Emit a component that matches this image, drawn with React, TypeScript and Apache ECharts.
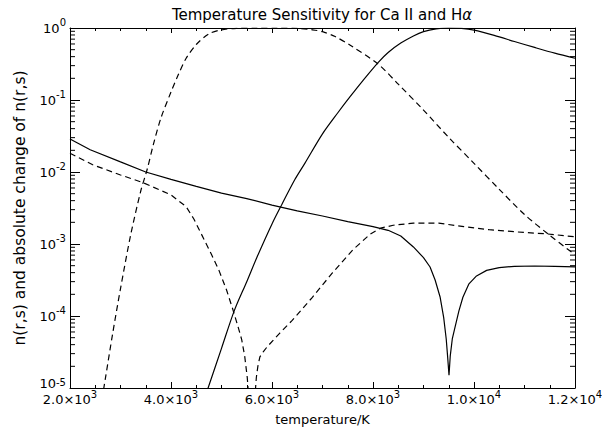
import React, { useEffect, useRef } from "react";
import * as echarts from "echarts";

// ---- axis settings ----
const xMin = 2000;
const xMax = 12000;
const xStep = 2000;
const yMin = 1e-5;
const yMax = 1;
const minorMultipliers = [2, 3, 4, 5, 6, 7, 8, 9];
const decades = [1e-5, 1e-4, 1e-3, 1e-2, 1e-1];

const titleMain = "Temperature Sensitivity for Ca II and H";
const titleGreek = "α";
const xName = "temperature/K";
const yName = "n(r,s) and absolute change of n(r,s)";

// ---- series: solid, population peaking near 9500 K ----
const popSolidT = [4700, 5000, 5250, 5500, 5700, 6000, 6200, 6450, 6650, 7000, 7300, 7550, 7800, 8100, 8300, 8550, 8800, 9000, 9250, 9500, 9750, 10000, 10400, 10800, 11200, 11600, 12000];
const popSolidV = [8.5e-6, 3.55e-5, 1.17e-4, 3.0e-4, 6.5e-4, 1.9e-3, 3.6e-3, 7.8e-3, 0.0132, 0.0339, 0.066, 0.112, 0.186, 0.331, 0.457, 0.617, 0.776, 0.891, 0.973, 1.0, 0.986, 0.933, 0.79, 0.65, 0.537, 0.447, 0.38];

// ---- series: solid, absolute change ----
const chgSolidT = [2000, 2400, 3000, 3500, 4000, 4500, 5000, 5500, 6000, 6500, 7000, 7500, 8000, 8300, 8550, 8800, 9000, 9130, 9230, 9330, 9400, 9450, 9480, 9505, 9530, 9570, 9620, 9700, 9780, 9900, 10050, 10250, 10500, 10800, 11200, 11600, 12000];
const chgSolidV = [0.0288, 0.0204, 0.0138, 0.0100, 0.0079, 0.0063, 0.0051, 0.00427, 0.00347, 0.00288, 0.00245, 0.00204, 0.00174, 0.00155, 0.00129, 0.00091, 0.000646, 0.000479, 0.000316, 0.000182, 9.5e-5, 4.8e-5, 2.6e-5, 1.5e-5, 2.8e-5, 4.8e-5, 6.8e-5, 1.17e-4, 1.82e-4, 2.8e-4, 3.6e-4, 4.3e-4, 4.7e-4, 4.9e-4, 4.95e-4, 4.9e-4, 4.8e-4];

// ---- series: dashed, population peaking near 6000 K ----
const popDashT = [2600, 2700, 2850, 3000, 3200, 3400, 3530, 3650, 3800, 4000, 4150, 4300, 4500, 4750, 5000, 5300, 5700, 6100, 6500, 6800, 7000, 7250, 7550, 8100, 8500, 9000, 9500, 10000, 10500, 11000, 11500, 12000];
const popDashV = [5.0e-6, 1.35e-5, 6.0e-5, 2.4e-4, 1.32e-3, 5.4e-3, 0.011, 0.024, 0.056, 0.129, 0.229, 0.38, 0.59, 0.83, 0.944, 0.99, 1.0, 1.0, 0.99, 0.944, 0.89, 0.76, 0.575, 0.316, 0.166, 0.0724, 0.0302, 0.0132, 0.00575, 0.00257, 0.00132, 7.1e-4];

// ---- series: dashed, absolute change ----
const chgDashT = [2000, 2450, 3000, 3450, 4000, 4300, 4450, 4600, 4800, 4950, 5100, 5230, 5320, 5400, 5460, 5510, 5600, 5690, 5720, 5760, 5830, 5900, 6150, 6400, 6800, 7200, 7600, 7950, 8150, 8400, 8800, 9300, 9800, 10300, 10800, 11450, 12000];
const chgDashV = [0.0182, 0.0126, 0.0091, 0.0071, 0.0048, 0.0033, 0.00224, 0.00138, 0.00072, 4.3e-4, 2.3e-4, 1.2e-4, 7.4e-5, 4.7e-5, 2.75e-5, 1.4e-5, 2.0e-6, 1.4e-5, 2.0e-5, 2.7e-5, 3.2e-5, 3.7e-5, 5.75e-5, 8.7e-5, 1.82e-4, 4.0e-4, 8.3e-4, 1.38e-3, 1.66e-3, 1.82e-3, 1.95e-3, 1.95e-3, 1.74e-3, 1.58e-3, 1.48e-3, 1.38e-3, 1.26e-3];

const FONT = "DejaVu Sans";

function pairs(t: number[], v: number[]) {
  return t.map((x, i) => [x, v[i]]);
}

const minorTickValues: number[][] = [];
decades.forEach((d) => minorMultipliers.forEach((m) => minorTickValues.push([xMin, d * m])));

const supRich = {
  b: { fontSize: 13, fontFamily: FONT, color: "#000", lineHeight: 21 },
  s: { fontSize: 10, fontFamily: FONT, color: "#000", lineHeight: 10, verticalAlign: "top" as const },
  bm: { fontSize: 13, fontFamily: FONT, color: "#000", lineHeight: 21, padding: [0, 0, 10, 0] },
};

function xLabel(v: number) {
  const e = Math.floor(Math.log10(v) + 1e-9);
  const m = (v / Math.pow(10, e)).toFixed(1);
  return `{b|${m}×10}{s|${e}}`;
}
function yLabel(v: number) {
  const e = Math.round(Math.log10(v));
  // the lowest label sits a little above its tick, clear of the x labels
  if (v <= yMin * 1.0001) return `{bm|10}{s|${e}}`;
  return `{b|10}{s|${e}}`;
}

export default function App() {
  const ref = useRef<HTMLDivElement>(null);
  useEffect(() => {
    if (!ref.current) return;
    const chart = echarts.init(ref.current, undefined, { renderer: "svg" });
    const lineStyleSolid = { color: "#000", width: 1.2, type: "solid" as const };
    const lineStyleDash = { color: "#000", width: 1.2, type: [6, 4] as any };
    chart.setOption({
      animation: false,
      backgroundColor: "#fff",
      textStyle: { fontFamily: FONT },
      grid: { left: 70, right: 27, top: 28, bottom: 40, containLabel: false, outerBoundsMode: "none" },
      graphic: [
        {
          type: "text",
          x: 322,
          y: 15,
          style: {
            text: `{a|${titleMain}}{i|${titleGreek}}`,
            align: "center",
            verticalAlign: "middle",
            fill: "#000",
            rich: {
              a: { fontSize: 15, fontFamily: FONT, color: "#000" },
              i: { fontSize: 15, fontFamily: FONT, fontStyle: "italic", color: "#000" },
            },
          },
        },
      ],
      xAxis: [
        {
          type: "value",
          min: xMin,
          max: xMax,
          interval: xStep,
          position: "bottom",
          name: xName,
          nameLocation: "middle",
          nameGap: 25,
          nameTextStyle: { fontSize: 13, fontFamily: FONT, color: "#000" },
          axisLine: { show: true, onZero: false, lineStyle: { color: "#000", width: 1 } },
          axisTick: { show: true, inside: true, length: 6, lineStyle: { color: "#000" } },
          minorTick: { show: true, splitNumber: 4, length: 3, lineStyle: { color: "#000" } },
          splitLine: { show: false },
          axisLabel: { margin: 1, formatter: xLabel, rich: supRich, color: "#000" },
        },
        {
          type: "value",
          min: xMin,
          max: xMax,
          interval: xStep,
          position: "top",
          axisLine: { show: true, onZero: false, lineStyle: { color: "#000", width: 1 } },
          axisTick: { show: true, inside: true, length: 5, lineStyle: { color: "#000" } },
          minorTick: { show: true, splitNumber: 4, length: 3, lineStyle: { color: "#000" } },
          splitLine: { show: false },
          axisLabel: { show: false },
        },
      ],
      yAxis: [
        {
          type: "log",
          logBase: 10,
          min: yMin,
          max: yMax,
          position: "left",
          name: yName,
          nameLocation: "middle",
          nameGap: 42,
          nameRotate: 90,
          nameTextStyle: { fontSize: 15.5, fontFamily: FONT, color: "#000" },
          axisLine: { show: true, onZero: false, lineStyle: { color: "#000", width: 1 } },
          axisTick: { show: true, inside: true, length: 10, lineStyle: { color: "#000" } },
          splitLine: { show: false },
          axisLabel: { margin: 4, formatter: yLabel, rich: supRich, color: "#000" },
        },
        {
          type: "log",
          logBase: 10,
          min: yMin,
          max: yMax,
          position: "right",
          axisLine: { show: true, onZero: false, lineStyle: { color: "#000", width: 1 } },
          axisTick: { show: true, inside: true, length: 10, lineStyle: { color: "#000" } },
          splitLine: { show: false },
          axisLabel: { show: false },
        },
      ],
      series: [
        {
          type: "custom",
          xAxisIndex: 0,
          yAxisIndex: 0,
          silent: true,
          clip: false,
          encode: { x: 0, y: 1 },
          data: minorTickValues,
          renderItem: (params: any, api: any) => {
            const v = api.value(1);
            const pl = api.coord([xMin, v]);
            const pr = api.coord([xMax, v]);
            return {
              type: "group",
              children: [
                { type: "line", shape: { x1: pl[0], y1: pl[1], x2: pl[0] + 5, y2: pl[1] }, style: { stroke: "#000", lineWidth: 1 } },
                { type: "line", shape: { x1: pr[0], y1: pr[1], x2: pr[0] - 5, y2: pr[1] }, style: { stroke: "#000", lineWidth: 1 } },
              ],
            };
          },
        },
        { type: "line", name: "pop solid", data: pairs(popSolidT, popSolidV), showSymbol: false, smooth: 0.3, lineStyle: lineStyleSolid, clip: true },
        { type: "line", name: "change solid", data: pairs(chgSolidT, chgSolidV), showSymbol: false, lineStyle: lineStyleSolid, clip: true },
        { type: "line", name: "pop dashed", data: pairs(popDashT, popDashV), showSymbol: false, smooth: 0.3, lineStyle: lineStyleDash, clip: true },
        { type: "line", name: "change dashed", data: pairs(chgDashT, chgDashV), showSymbol: false, lineStyle: lineStyleDash, clip: true },
      ],
    });
    return () => chart.dispose();
  }, []);
  return <div ref={ref} style={{ width: 602, height: 428, position: "absolute", left: 0, top: 0 }} />;
}
